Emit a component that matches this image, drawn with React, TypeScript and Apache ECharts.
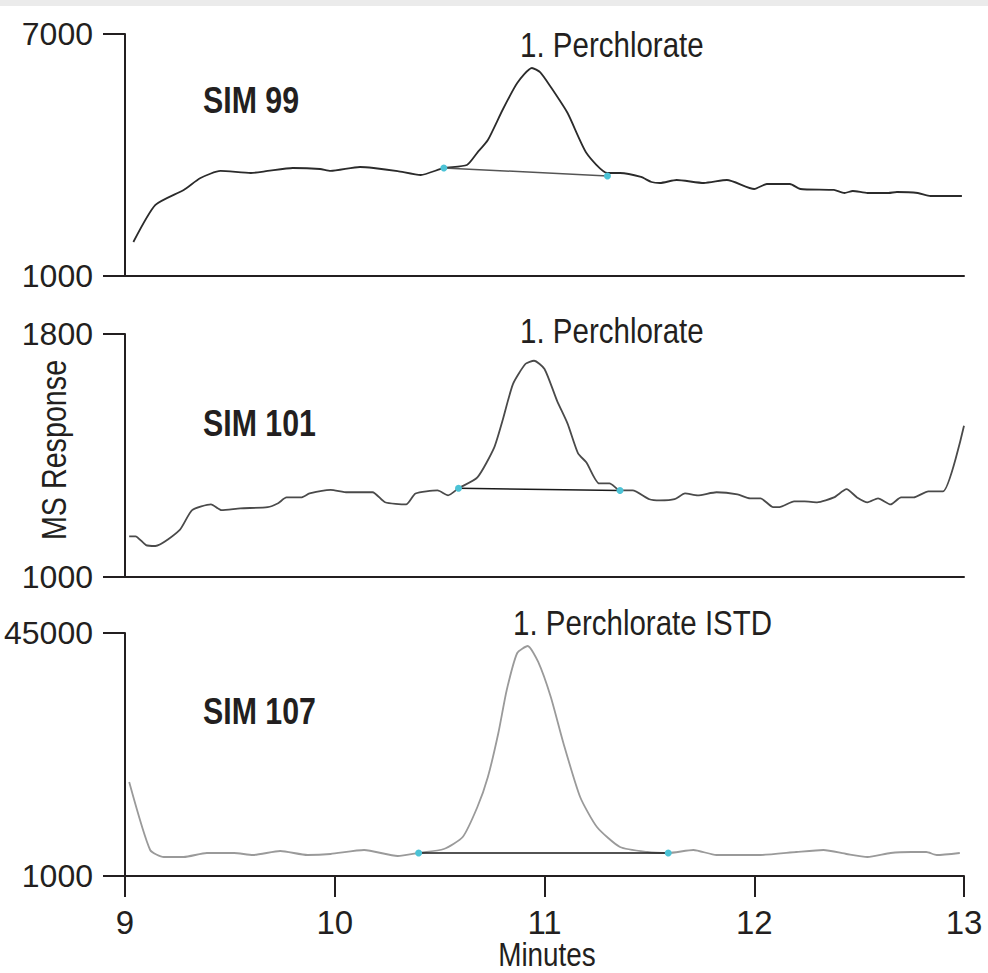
import React, { useEffect, useRef } from "react";
import * as echarts from "echarts";

// Retention time axis (minutes)
const minuteTicks = [9, 10, 11, 12, 13];

// SIM 99 trace
const sim99Min = [9.04, 9.145, 9.28, 9.36, 9.455, 9.6, 9.68, 9.8, 9.93, 9.98, 10.12, 10.185, 10.3, 10.41, 10.52, 10.63, 10.68, 10.73, 10.8, 10.87, 10.94, 10.98, 11.03, 11.11, 11.2, 11.3, 11.36, 11.46, 11.51, 11.55, 11.63, 11.76, 11.87, 12.0, 12.06, 12.17, 12.22, 12.38, 12.43, 12.47, 12.54, 12.64, 12.68, 12.78, 12.84, 12.99];
const sim99Resp = [1843, 2761, 3133, 3430, 3604, 3554, 3604, 3678, 3653, 3604, 3703, 3678, 3600, 3504, 3678, 3752, 4060, 4372, 5116, 5785, 6157, 6050, 5686, 5041, 4050, 3554, 3554, 3455, 3331, 3306, 3380, 3306, 3380, 3157, 3281, 3281, 3157, 3133, 3058, 3108, 3058, 3058, 3083, 3058, 2983, 2983];
const sim99BaseMin = [10.52, 11.3];
const sim99BaseResp = [3678, 3480];

// SIM 101 trace
const sim101Min = [9.02, 9.05, 9.1, 9.145, 9.26, 9.32, 9.41, 9.46, 9.55, 9.68, 9.73, 9.77, 9.84, 9.88, 9.98, 10.06, 10.18, 10.24, 10.34, 10.385, 10.49, 10.54, 10.59, 10.68, 10.76, 10.8, 10.85, 10.91, 10.95, 11.0, 11.06, 11.11, 11.16, 11.2, 11.26, 11.31, 11.36, 11.42, 11.5, 11.55, 11.62, 11.67, 11.73, 11.82, 11.92, 11.98, 12.03, 12.09, 12.12, 12.19, 12.24, 12.3, 12.38, 12.44, 12.49, 12.54, 12.59, 12.65, 12.7, 12.76, 12.83, 12.9, 13.0];
const sim101Resp = [1134, 1134, 1105, 1102, 1154, 1220, 1239, 1220, 1226, 1230, 1243, 1262, 1262, 1275, 1287, 1279, 1279, 1246, 1239, 1275, 1285, 1269, 1292, 1328, 1426, 1515, 1636, 1702, 1712, 1685, 1580, 1505, 1407, 1377, 1308, 1308, 1285, 1285, 1256, 1252, 1256, 1275, 1269, 1279, 1272, 1259, 1259, 1230, 1230, 1249, 1249, 1246, 1262, 1289, 1262, 1246, 1259, 1239, 1262, 1262, 1282, 1282, 1498];
const sim101BaseMin = [10.59, 11.36];
const sim101BaseResp = [1292, 1285];

// SIM 107 trace
const sim107Min = [9.02, 9.12, 9.185, 9.28, 9.39, 9.52, 9.61, 9.74, 9.87, 9.98, 10.14, 10.3, 10.4, 10.52, 10.61, 10.68, 10.73, 10.78, 10.82, 10.87, 10.92, 10.97, 11.03, 11.09, 11.17, 11.25, 11.36, 11.49, 11.59, 11.71, 11.82, 12.03, 12.2, 12.33, 12.44, 12.54, 12.65, 12.75, 12.82, 12.87, 12.98];
const sim107Resp = [18020, 5708, 4440, 4440, 5165, 5165, 4802, 5527, 4802, 4984, 5708, 4621, 5165, 5889, 8061, 13494, 18926, 26893, 34680, 41380, 42647, 39750, 33410, 25080, 15300, 9870, 6250, 5346, 5165, 5708, 4800, 4800, 5346, 5708, 4984, 4440, 5165, 5346, 5346, 4802, 5165];
const sim107BaseMin = [10.4, 11.59];
const sim107BaseResp = [5165, 5165];

const panelNames = ["SIM 99", "SIM 101", "SIM 107"];
const peakNames = ["1. Perchlorate", "1. Perchlorate", "1. Perchlorate ISTD"];
const yRanges = [
  [1000, 7000],
  [1000, 1800],
  [1000, 45000],
];

const FONT = "'Liberation Sans', Arial, sans-serif";
const INK = "#231f20";
// condensed look for the annotation texts
const NARROW = 0.82;

const zip = (a: number[], b: number[]) => a.map((t, i) => [t, b[i]]);

export default function App() {
  const ref = useRef<HTMLDivElement>(null);

  useEffect(() => {
    if (!ref.current) return;
    const chart = echarts.init(ref.current, null, { renderer: "svg" });

    const grids = [
      { left: 125, right: 24, top: 34, height: 242, outerBoundsMode: "none" },
      { left: 125, right: 24, top: 334, height: 243, outerBoundsMode: "none" },
      { left: 125, right: 24, top: 633, height: 243, outerBoundsMode: "none" },
    ];

    const xAxes = grids.map((_, i) => ({
      type: "value",
      gridIndex: i,
      min: minuteTicks[0],
      max: minuteTicks[minuteTicks.length - 1],
      interval: 1,
      axisLine: { show: true, lineStyle: { color: INK, width: 2 } },
      axisTick: { show: i === 2, length: 21, lineStyle: { color: INK, width: 2 } },
      axisLabel: {
        show: i === 2,
        margin: 30,
        fontFamily: FONT,
        fontSize: 33,
        color: INK,
        formatter: (v: number) => String(v),
      },
      splitLine: { show: false },
    }));

    const yAxes = yRanges.map(([lo, hi], i) => ({
      type: "value",
      gridIndex: i,
      min: lo,
      max: hi,
      axisLine: { show: true, lineStyle: { color: INK, width: 2 } },
      axisTick: {
        show: true,
        length: 22,
        customValues: [lo, hi],
        lineStyle: { color: INK, width: 2 },
      },
      axisLabel: {
        show: true,
        margin: 32,
        customValues: [lo, hi],
        fontFamily: FONT,
        fontSize: 32,
        color: INK,
        formatter: (v: number) => String(v),
      },
      splitLine: { show: false },
    }));

    const traces = [
      { data: zip(sim99Min, sim99Resp), color: "#2b2b2b" },
      { data: zip(sim101Min, sim101Resp), color: "#4a4a4a" },
      { data: zip(sim107Min, sim107Resp), color: "#9a9a9a" },
    ];
    const baselines = [
      { data: zip(sim99BaseMin, sim99BaseResp), color: "#555555" },
      { data: zip(sim101BaseMin, sim101BaseResp), color: "#1a1a1a" },
      { data: zip(sim107BaseMin, sim107BaseResp), color: "#1a1a1a" },
    ];

    const series: any[] = [];
    traces.forEach((t, i) => {
      series.push({
        type: "line",
        xAxisIndex: i,
        yAxisIndex: i,
        data: t.data,
        showSymbol: false,
        smooth: 0.2,
        lineStyle: { color: t.color, width: 1.8 },
        z: 3,
      });
    });
    baselines.forEach((b, i) => {
      series.push({
        type: "line",
        xAxisIndex: i,
        yAxisIndex: i,
        data: b.data,
        symbol: "circle",
        symbolSize: 7,
        showSymbol: true,
        itemStyle: { color: "#4cc3d6", borderWidth: 0 },
        lineStyle: { color: b.color, width: 1.5 },
        z: 4,
      });
    });

    const panelLabelY = [100, 423, 711];
    const peakLabelY = [44, 330, 622];
    const peakLabelX = [520, 520, 513];

    const graphic: any[] = [
      {
        type: "rect",
        shape: { x: 0, y: 0, width: 988, height: 6 },
        style: { fill: "#ebebeb" },
      },
      {
        type: "text",
        x: 54,
        y: 450,
        rotation: Math.PI / 2,
        scaleX: NARROW,
        style: {
          text: "MS Response",
          font: `35px ${FONT}`,
          fill: INK,
          align: "center",
          verticalAlign: "middle",
        },
      },
      {
        type: "text",
        x: 547,
        y: 955,
        scaleX: NARROW,
        style: {
          text: "Minutes",
          font: `34px ${FONT}`,
          fill: INK,
          align: "center",
          verticalAlign: "middle",
        },
      },
    ];
    panelNames.forEach((name, i) => {
      graphic.push({
        type: "text",
        x: 203,
        y: panelLabelY[i],
        scaleX: NARROW,
        style: {
          text: name,
          font: `bold 37px ${FONT}`,
          fill: INK,
          align: "left",
          verticalAlign: "middle",
        },
      });
      graphic.push({
        type: "text",
        x: peakLabelX[i],
        y: peakLabelY[i],
        scaleX: NARROW,
        style: {
          text: peakNames[i],
          font: `36px ${FONT}`,
          fill: INK,
          align: "left",
          verticalAlign: "middle",
        },
      });
    });

    chart.setOption({
      animation: false,
      backgroundColor: "#ffffff",
      grid: grids,
      xAxis: xAxes,
      yAxis: yAxes,
      series,
      graphic,
    });

    return () => chart.dispose();
  }, []);

  return (
    <div
      ref={ref}
      style={{ position: "fixed", left: 0, top: 0, width: 988, height: 973 }}
    />
  );
}
